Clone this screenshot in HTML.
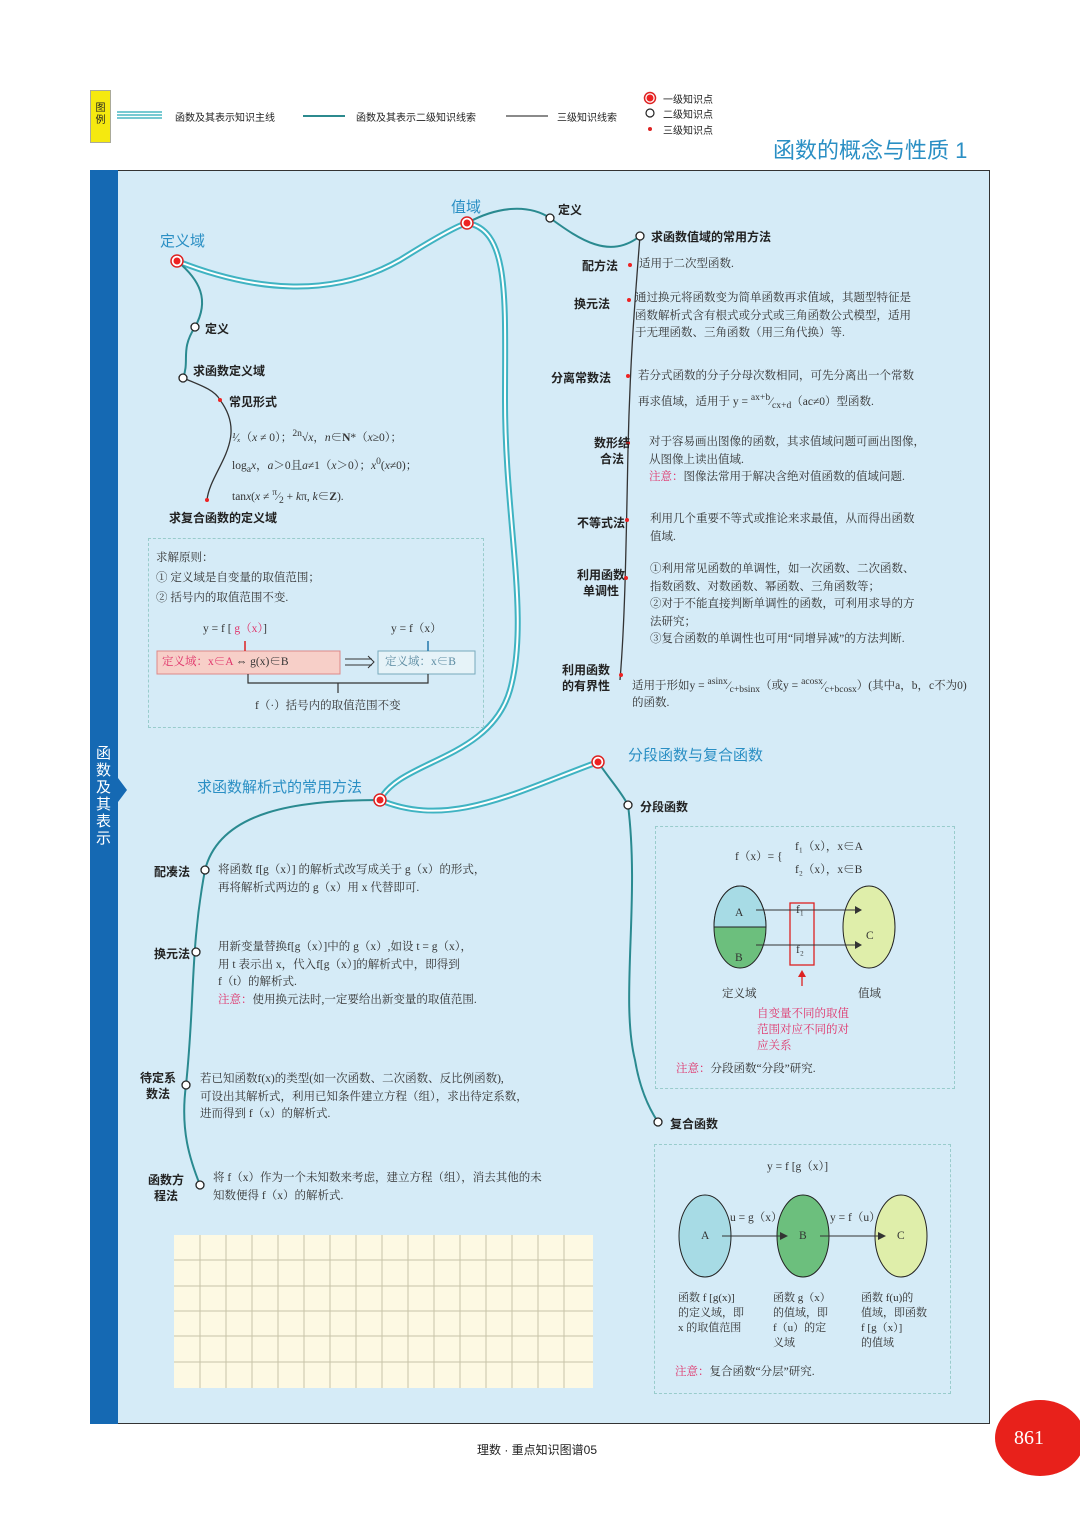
<!DOCTYPE html>
<html><head><meta charset="utf-8"><style>
*{margin:0;padding:0;box-sizing:border-box}
body{width:1080px;height:1514px;background:#fff;position:relative;overflow:hidden;font-family:"Liberation Sans","Noto Sans CJK SC",sans-serif;color:#222}
.a{position:absolute;white-space:nowrap}
.s{font-family:"Liberation Serif","Noto Serif CJK SC",serif;font-size:11.5px;color:#333;line-height:17.5px}
.h{font-size:12px;font-weight:bold;color:#222}
.t{font-size:15px;color:#2a8fc4}
.r{color:#e0336a}
.box{position:absolute;border:1px dashed #9cc;}
</style></head><body>
<!-- legend -->
<div class="a" style="left:90px;top:90px;width:21px;height:53px;background:#f5e90f;border:1px solid #aa9;font-size:10px;line-height:12px;text-align:center;padding-top:12px;white-space:normal">图例</div>
<svg class="a" style="left:0;top:0" width="1080" height="1514">
<g stroke="#4cb8c4" fill="none"><line x1="117" y1="112" x2="162" y2="112" stroke-width="1.5"/><line x1="117" y1="115" x2="162" y2="115" stroke-width="1.5"/><line x1="117" y1="118" x2="162" y2="118" stroke-width="1.5"/></g>
<line x1="303" y1="116" x2="345" y2="116" stroke="#2c8a8e" stroke-width="2"/>
<line x1="506" y1="116" x2="548" y2="116" stroke="#444" stroke-width="1.3"/>
<circle cx="650" cy="98" r="5.5" fill="#fff" stroke="#d22" stroke-width="1.5"/><circle cx="650" cy="98" r="3.5" fill="#e22"/>
<circle cx="650" cy="113" r="4" fill="#fff" stroke="#222" stroke-width="1.2"/>
<circle cx="650" cy="129" r="2" fill="#d22"/>
</svg>
<div class="a" style="left:175px;top:109px;font-size:10px">函数及其表示知识主线</div>
<div class="a" style="left:356px;top:109px;font-size:10px">函数及其表示二级知识线索</div>
<div class="a" style="left:557px;top:109px;font-size:10px">三级知识线索</div>
<div class="a" style="left:663px;top:91px;font-size:10px">一级知识点</div>
<div class="a" style="left:663px;top:106px;font-size:10px">二级知识点</div>
<div class="a" style="left:663px;top:122px;font-size:10px">三级知识点</div>
<div class="a" style="left:773px;top:133px;font-size:22px;color:#2a8fc4">函数的概念与性质 1</div>

<!-- frame -->
<div class="a" style="left:90px;top:170px;width:900px;height:1254px;background:#d5ebf7;border:1px solid #333"></div>
<div class="a" style="left:90px;top:170px;width:28px;height:1254px;background:#1569b3"></div>
<div class="a" style="left:96px;top:745px;width:16px;font-size:15px;color:#fff;white-space:normal;line-height:17px">函数及其表示</div>
<svg class="a" style="left:0;top:0" width="1080" height="1514">
<polygon points="118,778 127,790 118,802" fill="#1569b3"/>
<!-- grid -->
<rect x="174" y="1235" width="419" height="153" fill="#fdf9e3"/>
<g stroke="#c8c4a8" stroke-width="1">
<line x1="200" y1="1235" x2="200" y2="1388"/><line x1="226" y1="1235" x2="226" y2="1388"/><line x1="252" y1="1235" x2="252" y2="1388"/><line x1="278" y1="1235" x2="278" y2="1388"/><line x1="304" y1="1235" x2="304" y2="1388"/><line x1="330" y1="1235" x2="330" y2="1388"/><line x1="356" y1="1235" x2="356" y2="1388"/><line x1="382" y1="1235" x2="382" y2="1388"/><line x1="408" y1="1235" x2="408" y2="1388"/><line x1="434" y1="1235" x2="434" y2="1388"/><line x1="460" y1="1235" x2="460" y2="1388"/><line x1="486" y1="1235" x2="486" y2="1388"/><line x1="512" y1="1235" x2="512" y2="1388"/><line x1="538" y1="1235" x2="538" y2="1388"/><line x1="564" y1="1235" x2="564" y2="1388"/>
<line x1="174" y1="1260" x2="593" y2="1260"/><line x1="174" y1="1286" x2="593" y2="1286"/><line x1="174" y1="1311" x2="593" y2="1311"/><line x1="174" y1="1336" x2="593" y2="1336"/><line x1="174" y1="1362" x2="593" y2="1362"/>
</g>
<!-- main lines -->
<g fill="none" stroke="#3fb3c2" stroke-width="6"><path d="M177,261 C250,290 330,300 400,260 C440,235 460,225 467,223 C510,230 505,300 505,400 C505,520 530,620 510,690 C490,760 400,760 380,800 C450,830 520,790 598,762"/></g>
<g fill="none" stroke="#fff" stroke-width="2"><path d="M177,261 C250,290 330,300 400,260 C440,235 460,225 467,223 C510,230 505,300 505,400 C505,520 530,620 510,690 C490,760 400,760 380,800 C450,830 520,790 598,762"/></g>
<!-- secondary -->
<g fill="none" stroke="#2a8a90" stroke-width="2">
<path d="M177,261 C200,280 210,300 195,327 C180,350 190,360 183,378"/>
<path d="M467,223 C500,205 530,205 550,218 C580,240 610,260 640,236"/>
<path d="M380,800 C300,800 220,810 205,870 C190,950 195,1000 186,1085 C180,1130 190,1160 200,1185"/>
<path d="M598,762 C610,780 620,790 628,805 C640,900 620,1000 635,1060 C640,1090 650,1110 658,1122"/>
</g>
<g fill="none" stroke="#333" stroke-width="1.3">
<path d="M183,378 C200,385 215,390 220,400 C250,440 210,470 207,500"/>
<path d="M640,236 C635,300 630,360 628,450 C626,550 625,620 620,680"/>
</g>
<g fill="#fff" stroke="#d22" stroke-width="1.5"><circle cx="177" cy="261" r="6"/><circle cx="467" cy="223" r="6"/><circle cx="380" cy="800" r="6"/><circle cx="598" cy="762" r="6"/></g>
<g fill="#e22"><circle cx="177" cy="261" r="3.5"/><circle cx="467" cy="223" r="3.5"/><circle cx="380" cy="800" r="3.5"/><circle cx="598" cy="762" r="3.5"/>
<circle cx="220" cy="400" r="2"/><circle cx="207" cy="500" r="2"/><circle cx="630" cy="265" r="2"/><circle cx="629" cy="300" r="2"/><circle cx="628" cy="376" r="2"/><circle cx="628" cy="443" r="2"/><circle cx="627" cy="520" r="2"/><circle cx="626" cy="578" r="2"/><circle cx="621" cy="675" r="2"/></g>
<g fill="#fff" stroke="#222" stroke-width="1.3"><circle cx="195" cy="327" r="4"/><circle cx="183" cy="378" r="4"/><circle cx="550" cy="218" r="4"/><circle cx="640" cy="236" r="4"/><circle cx="628" cy="805" r="4"/><circle cx="658" cy="1122" r="4"/><circle cx="205" cy="870" r="4"/><circle cx="196" cy="952" r="4"/><circle cx="186" cy="1085" r="4"/><circle cx="200" cy="1185" r="4"/></g>
<!-- lower-left domain box diagram -->
<rect x="157" y="651" width="183" height="23" fill="#f7cfc8" stroke="#d88" stroke-width="1"/>
<rect x="378" y="651" width="97" height="23" fill="#e6f3f8" stroke="#7ab" stroke-width="1"/>
<line x1="245" y1="641" x2="245" y2="651" stroke="#d22" stroke-width="1.5"/>
<line x1="428" y1="641" x2="428" y2="651" stroke="#27a" stroke-width="1.5"/>
<path d="M248,674 V683 H428 V674 M338,683 V693" fill="none" stroke="#333" stroke-width="1.2"/>
<path d="M345,659 H372 M345,665 H372" stroke="#333" stroke-width="1"/><path d="M368,656 L374,662 L368,668" fill="none" stroke="#333"/>
<!-- piecewise diagram -->
<ellipse cx="740" cy="927" rx="26" ry="41" fill="#6cbf7d" stroke="#222"/>
<path d="M714,927 A26,41 0 0 1 766,927 Z" fill="#a7dbe5" stroke="#222"/>
<ellipse cx="869" cy="927" rx="26" ry="41" fill="#dfeeaa" stroke="#222"/>
<rect x="790" y="903" width="24" height="62" fill="none" stroke="#d22" stroke-width="1.3"/>
<line x1="756" y1="910" x2="855" y2="910" stroke="#333"/><polygon points="855,906 862,910 855,914" fill="#333"/>
<line x1="756" y1="945" x2="855" y2="945" stroke="#333"/><polygon points="855,941 862,945 855,949" fill="#333"/>
<line x1="802" y1="972" x2="802" y2="986" stroke="#d22" stroke-width="1.3"/><polygon points="798,977 802,970 806,977" fill="#d22"/>
<!-- composite -->
<ellipse cx="705" cy="1236" rx="26" ry="41" fill="#a7dbe5" stroke="#222"/>
<ellipse cx="803" cy="1236" rx="26" ry="41" fill="#6cbf7d" stroke="#222"/>
<ellipse cx="901" cy="1236" rx="26" ry="41" fill="#dfeeaa" stroke="#222"/>
<line x1="722" y1="1236" x2="780" y2="1236" stroke="#333"/><polygon points="780,1232 788,1236 780,1240" fill="#333"/>
<line x1="820" y1="1236" x2="878" y2="1236" stroke="#333"/><polygon points="878,1232 886,1236 878,1240" fill="#333"/>
<!-- page number -->
<ellipse cx="1040" cy="1438" rx="45" ry="38" fill="#e8211b"/>
</svg>
<div class="box" style="left:148px;top:538px;width:336px;height:190px"></div>
<div class="box" style="left:655px;top:826px;width:300px;height:263px"></div>
<div class="box" style="left:654px;top:1144px;width:297px;height:250px"></div>

<!-- labels -->
<div class="a t" style="left:160px;top:230px">定义域</div>
<div class="a t" style="left:451px;top:196px">值域</div>
<div class="a t" style="left:197px;top:776px">求函数解析式的常用方法</div>
<div class="a t" style="left:628px;top:744px">分段函数与复合函数</div>
<div class="a h" style="left:205px;top:320px">定义</div>
<div class="a h" style="left:193px;top:362px">求函数定义域</div>
<div class="a h" style="left:229px;top:393px">常见形式</div>
<div class="a h" style="left:169px;top:509px">求复合函数的定义域</div>
<div class="a h" style="left:558px;top:201px">定义</div>
<div class="a h" style="left:651px;top:228px">求函数值域的常用方法</div>
<div class="a h" style="left:582px;top:257px">配方法</div>
<div class="a h" style="left:574px;top:295px">换元法</div>
<div class="a h" style="left:551px;top:369px">分离常数法</div>
<div class="a h" style="left:590px;top:435px;white-space:normal;width:44px;line-height:16px;text-align:center">数形结合法</div>
<div class="a h" style="left:577px;top:514px">不等式法</div>
<div class="a h" style="left:577px;top:567px;line-height:16px;text-align:center">利用函数<br>单调性</div>
<div class="a h" style="left:562px;top:662px;line-height:16px;text-align:center">利用函数<br>的有界性</div>
<div class="a h" style="left:640px;top:798px">分段函数</div>
<div class="a h" style="left:670px;top:1115px">复合函数</div>
<div class="a h" style="left:154px;top:863px">配凑法</div>
<div class="a h" style="left:154px;top:945px">换元法</div>
<div class="a h" style="left:140px;top:1070px;line-height:16px;text-align:center">待定系<br>数法</div>
<div class="a h" style="left:148px;top:1172px;line-height:16px;text-align:center">函数方<br>程法</div>

<!-- domain text -->
<div class="a s" style="left:232px;top:422px;line-height:23px"><i>¹⁄ₓ</i>（<i>x</i> ≠ 0）；<sup>2n</sup>√<i>x</i>，<i>n</i>∈<b>N</b>*（<i>x</i>≥0）；<br>log<sub>a</sub><i>x</i>，<i>a</i>＞0且<i>a</i>≠1（<i>x</i>＞0）；<i>x</i><sup>0</sup>(<i>x</i>≠0)；<br>tan<i>x</i>(<i>x</i> ≠ <sup>π</sup>⁄<sub>2</sub> + <i>k</i>π, <i>k</i>∈<b>Z</b>).</div>
<div class="a s" style="left:156px;top:548px;line-height:20px">求解原则：<br>① 定义域是自变量的取值范围；<br>② 括号内的取值范围不变.</div>
<div class="a s" style="left:203px;top:621px">y = f [ <span class="r">g（x）</span>]</div>
<div class="a s" style="left:391px;top:621px">y = f（x）</div>
<div class="a s" style="left:162px;top:654px"><span class="r">定义域：x∈A</span> ⇔ g(x)∈B</div>
<div class="a s" style="left:385px;top:654px;color:#5a8aa0">定义域：x∈B</div>
<div class="a s" style="left:255px;top:698px">f（·）括号内的取值范围不变</div>

<!-- range text -->
<div class="a s" style="left:639px;top:256px">适用于二次型函数.</div>
<div class="a s" style="left:635px;top:290px">通过换元将函数变为简单函数再求值域，其题型特征是<br>函数解析式含有根式或分式或三角函数公式模型，适用<br>于无理函数、三角函数（用三角代换）等.</div>
<div class="a s" style="left:638px;top:368px">若分式函数的分子分母次数相同，可先分离出一个常数</div>
<div class="a s" style="left:638px;top:389px">再求值域，适用于 y = <sup>ax+b</sup>⁄<sub>cx+d</sub>（ac≠0）型函数.</div>
<div class="a s" style="left:649px;top:434px">对于容易画出图像的函数，其求值域问题可画出图像，<br>从图像上读出值域.<br><span class="r">注意：</span>图像法常用于解决含绝对值函数的值域问题.</div>
<div class="a s" style="left:650px;top:511px">利用几个重要不等式或推论来求最值，从而得出函数<br>值域.</div>
<div class="a s" style="left:650px;top:561px">①利用常见函数的单调性，如一次函数、二次函数、<br>指数函数、对数函数、幂函数、三角函数等；<br>②对于不能直接判断单调性的函数，可利用求导的方<br>法研究；<br>③复合函数的单调性也可用“同增异减”的方法判断.</div>
<div class="a s" style="left:632px;top:673px">适用于形如y = <sup>asinx</sup>⁄<sub>c+bsinx</sub>（或y = <sup>acosx</sup>⁄<sub>c+bcosx</sub>）(其中a，b，c不为0)</div>
<div class="a s" style="left:632px;top:695px">的函数.</div>

<!-- analytic text -->
<div class="a s" style="left:218px;top:862px">将函数 f[g（x）] 的解析式改写成关于 g（x）的形式，<br>再将解析式两边的 g（x）用 x 代替即可.</div>
<div class="a s" style="left:218px;top:939px">用新变量替换f[g（x）]中的 g（x）,如设 t = g（x），<br>用 t 表示出 x，代入f[g（x）]的解析式中，即得到<br>f（t）的解析式.<br><span class="r">注意：</span>使用换元法时,一定要给出新变量的取值范围.</div>
<div class="a s" style="left:200px;top:1071px">若已知函数f(x)的类型(如一次函数、二次函数、反比例函数),<br>可设出其解析式，利用已知条件建立方程（组），求出待定系数，<br>进而得到 f（x）的解析式.</div>
<div class="a s" style="left:213px;top:1170px">将 f（x）作为一个未知数来考虑，建立方程（组），消去其他的未<br>知数便得 f（x）的解析式.</div>

<!-- piecewise text -->
<div class="a s" style="left:735px;top:849px">f（x）= {</div>
<div class="a s" style="left:795px;top:836px;line-height:23px">f₁（x），x∈A<br>f₂（x），x∈B</div>
<div class="a s" style="left:735px;top:905px">A</div><div class="a s" style="left:735px;top:950px">B</div><div class="a s" style="left:866px;top:928px">C</div>
<div class="a s" style="left:796px;top:902px">f₁</div><div class="a s" style="left:796px;top:942px">f₂</div>
<div class="a s" style="left:722px;top:986px">定义域</div><div class="a s" style="left:858px;top:986px">值域</div>
<div class="a s r" style="left:757px;top:1006px;line-height:16px">自变量不同的取值<br>范围对应不同的对<br>应关系</div>
<div class="a s" style="left:676px;top:1061px"><span class="r">注意：</span>分段函数“分段”研究.</div>

<!-- composite text -->
<div class="a s" style="left:767px;top:1159px">y = f [g（x）]</div>
<div class="a s" style="left:730px;top:1210px">u = g（x）</div>
<div class="a s" style="left:830px;top:1210px">y = f（u）</div>
<div class="a s" style="left:701px;top:1228px">A</div><div class="a s" style="left:799px;top:1228px">B</div><div class="a s" style="left:897px;top:1228px">C</div>
<div class="a s" style="left:678px;top:1291px;line-height:15px;font-size:11px">函数 f [g(x)]<br>的定义域，即<br>x 的取值范围</div>
<div class="a s" style="left:773px;top:1291px;line-height:15px;font-size:11px">函数 g（x）<br>的值域，即<br>f（u）的定<br>义域</div>
<div class="a s" style="left:861px;top:1291px;line-height:15px;font-size:11px">函数 f(u)的<br>值域，即函数<br>f [g（x）]<br>的值域</div>
<div class="a s" style="left:675px;top:1364px"><span class="r">注意：</span>复合函数“分层”研究.</div>

<div class="a" style="left:477px;top:1441px;font-size:12px">理数 · 重点知识图谱05</div>
<div class="a" style="left:1014px;top:1427px;font-size:20px;color:#fff;font-family:'Liberation Serif',serif">861</div>
</body></html>
